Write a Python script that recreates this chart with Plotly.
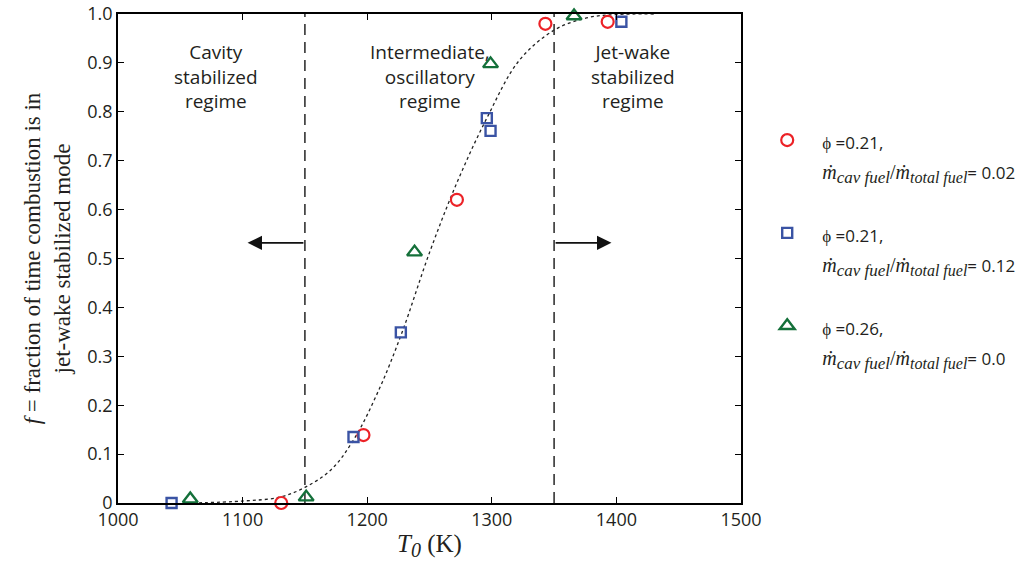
import plotly.graph_objects as go

# ---- data ----
red_T = [1131, 1197, 1272, 1343, 1393]
red_f = [0.0, 0.139, 0.620, 0.980, 0.984]

blue_T = [1043, 1189, 1227, 1296, 1299, 1404]
blue_f = [0.0, 0.135, 0.349, 0.787, 0.761, 0.984]

green_T = [1058, 1151, 1238, 1299, 1366]
green_f = [0.008, 0.012, 0.513, 0.898, 0.996]

fit_T = [1060, 1100, 1130, 1150, 1171, 1190, 1210, 1228, 1250, 1272, 1296, 1322, 1350, 1376, 1400, 1430]
fit_f = [0.000, 0.004, 0.012, 0.032, 0.068, 0.133, 0.235, 0.349, 0.512, 0.655, 0.787, 0.905, 0.967, 0.992, 0.999, 1.000]

regime_bounds = [1150, 1350]
arrow_y = 0.532
arrow_tips = [1104, 1396]

regime_labels = ["Cavity<br>stabilized<br>regime",
                 "Intermediate,<br>oscillatory<br>regime",
                 "Jet-wake<br>stabilized<br>regime"]
regime_label_T = [1079, 1250, 1413]
regime_label_f = 0.873

x_ticks = [1000, 1100, 1200, 1300, 1400, 1500]
y_ticks = [0, 0.1, 0.2, 0.3, 0.4, 0.5, 0.6, 0.7, 0.8, 0.9, 1.0]
y_ticktext = ["0", "0.1", "0.2", "0.3", "0.4", "0.5", "0.6", "0.7", "0.8", "0.9", "1.0"]

SERIF = "Liberation Serif"
SANS = "Open Sans"
TXT = "#231f20"

def mdot_label(phi, ratio):
    return (f'<span style="font-size:17px">\u03d5 =' + phi + ',</span><br>'
            f'<span style="font-family:{SERIF};font-size:20px"><i>m\u0307</i>'
            f'<sub><span style="font-size:17px"><i>cav fuel</i></span></sub>'
            f'/<i>m\u0307</i><sub><span style="font-size:16px"><i>total fuel</i></span></sub></span>'
            f'<span style="font-size:17px">= ' + ratio + '</span>')

fig = go.Figure()

# fitted curve
fig.add_trace(go.Scatter(x=fit_T, y=fit_f, mode="lines", line_shape="spline",
                         line=dict(color="#222222", width=1.3, dash="3px,3px"),
                         showlegend=False, hoverinfo="skip"))

# regime boundaries
for b in regime_bounds:
    fig.add_trace(go.Scatter(x=[b, b], y=[0, 1], mode="lines",
                             line=dict(color="#333333", width=1.6, dash="11px,7px"),
                             showlegend=False, hoverinfo="skip"))

fig.add_trace(go.Scatter(x=red_T, y=red_f, mode="markers", cliponaxis=False, legendgroup="a",
                         marker=dict(symbol="circle-open", size=12, color="#ec2227",
                                     line=dict(width=2.2, color="#ec2227")),
                         name=mdot_label("0.21", "0.02")))
fig.add_trace(go.Scatter(x=blue_T, y=blue_f, mode="markers", cliponaxis=False, legendgroup="b",
                         marker=dict(symbol="square-open", size=10, color="#3a53a4",
                                     line=dict(width=2.4, color="#3a53a4")),
                         name=mdot_label("0.21", "0.12")))
fig.add_trace(go.Scatter(x=green_T, y=green_f, mode="markers", cliponaxis=False, legendgroup="c",
                         marker=dict(symbol="triangle-up-open", size=13, color="#14703a",
                                     line=dict(width=2.4, color="#14703a")),
                         name=mdot_label("0.26", "0.0")))

annotations = []
for lab, t in zip(regime_labels, regime_label_T):
    annotations.append(dict(x=t, y=regime_label_f, xref="x", yref="y", text=lab,
                            showarrow=False, font=dict(family=SANS, size=19, color=TXT),
                            align="center", xanchor="center", yanchor="middle"))
for b, tip in zip(regime_bounds, arrow_tips):
    annotations.append(dict(x=tip, y=arrow_y, ax=b, ay=arrow_y, xref="x", yref="y",
                            axref="x", ayref="y", text="", showarrow=True,
                            arrowhead=2, arrowsize=1.8, arrowwidth=1.6, arrowcolor="#111111"))

fig.update_layout(
    width=1026, height=574,
    margin=dict(l=118, r=285, t=14, b=71, autoexpand=False),
    paper_bgcolor="white", plot_bgcolor="white",
    font=dict(family=SANS, size=18, color=TXT),
    showlegend=True,
    legend=dict(x=1.018, y=0.786, xanchor="left", yanchor="top",
                font=dict(family=SANS, size=23, color=TXT),
                valign="top", tracegroupgap=30, bgcolor="rgba(0,0,0,0)",
                traceorder="grouped", itemwidth=60),
    annotations=annotations,
    xaxis=dict(range=[1000, 1500], tickvals=x_ticks, ticks="inside", ticklen=6,
               tickcolor="black", showline=True, linecolor="black", linewidth=1.5,
               mirror="ticks", showgrid=False, zeroline=False,
               tickfont=dict(family=SANS, size=18, color=TXT),
               title=dict(text='<i>T<sub><span style="font-size:20px">0</span></sub></i> (K)',
                          font=dict(family=SERIF, size=25, color=TXT), standoff=4)),
    yaxis=dict(range=[0, 1.0], tickvals=y_ticks, ticktext=y_ticktext, ticks="inside",
               ticklen=6, tickcolor="black", showline=True, linecolor="black",
               linewidth=1.5, mirror="ticks", showgrid=False, zeroline=False,
               tickfont=dict(family=SANS, size=18, color=TXT),
               title=dict(text="<i>f</i> = fraction of time combustion is in<br>jet-wake stabilized mode",
                          font=dict(family=SERIF, size=23, color=TXT), standoff=10)),
)

fig.write_html("out.html")
